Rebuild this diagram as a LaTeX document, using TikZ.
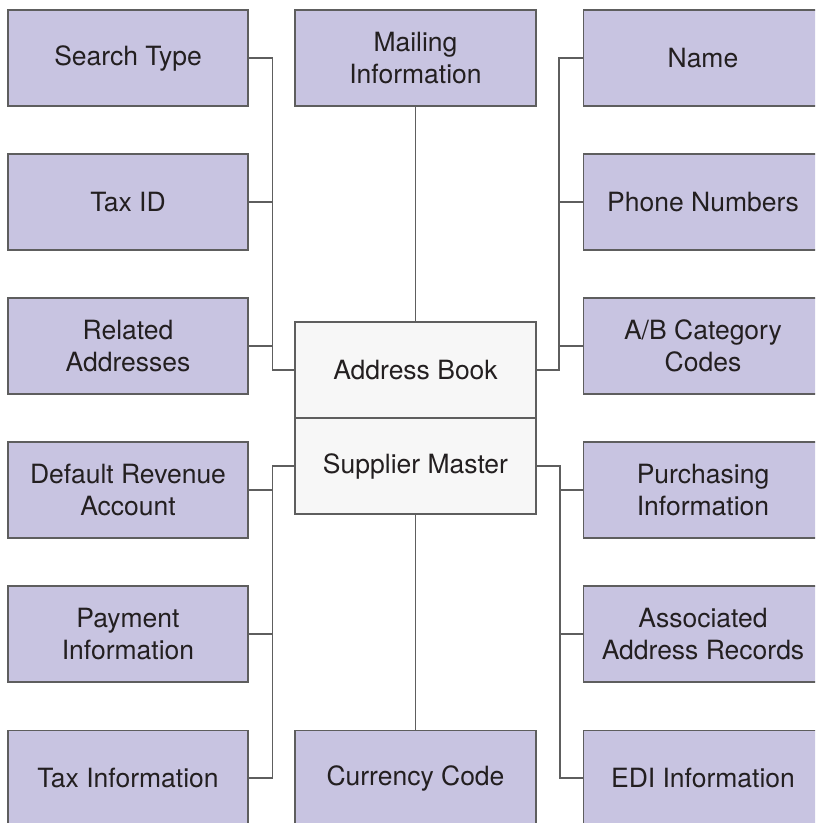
\documentclass[tikz,border=0pt]{standalone}
\usepackage{fontspec}
\setmainfont{TeX Gyre Heros}
\definecolor{boxfill}{HTML}{C8C4E1}
\definecolor{boxline}{HTML}{5E5E5E}
\definecolor{centerfill}{HTML}{F7F7F7}
\definecolor{txt}{HTML}{231F20}
\newcommand\bstr{\vrule width 0pt height 21pt depth 2pt\relax}
\begin{document}
\begin{tikzpicture}[x=1pt,y=-1pt,
  every node/.style={font=\fontsize{26.5}{32}\selectfont, text=txt, align=center, inner sep=0pt},
  item/.style={draw=boxline, line width=1.1pt, fill=boxfill, minimum width=240pt, minimum height=96pt},
  wideitem/.style={draw=boxline, line width=1.1pt, fill=boxfill, minimum width=300pt, minimum height=96pt, anchor=west},
  tallitem/.style={draw=boxline, line width=1.1pt, fill=boxfill, minimum width=#1, minimum height=140pt, anchor=north},
  core/.style={draw=boxline, line width=1.1pt, fill=centerfill, minimum width=241pt, minimum height=96pt},
  link/.style={draw=boxline, line width=1.1pt}]
\useasboundingbox (0,0) rectangle (815,823);
\clip (0,0) rectangle (815,823);
% left column
\node[item] (st) at (128,58) {\bstr Search Type};
\node[item] (tid) at (128,202) {\bstr Tax ID};
\node[item] (rel) at (128,346) {\bstr Related\\Addresses\bstr};
\node[item] (drv) at (128,490) {\bstr Default Revenue\\Account\bstr};
\node[item] (pay) at (128,634) {\bstr Payment\\Information\bstr};
\node[tallitem=240pt] (taxbox) at (128,730) {};
\node (tax) at (128,778) {\bstr Tax Information};
% middle column
\node[item, minimum width=241pt] (mail) at (415.5,58) {\bstr Mailing\\Information\bstr};
\node[core] (ab) at (415.5,370) {\bstr Address Book};
\node[core] (sm) at (415.5,466) {\bstr Supplier Master};
\node[tallitem=241pt] (curbox) at (415.5,730) {};
\node (cur) at (415.5,778) {\bstr Currency Code};
% right column
\node[wideitem] (nmbox) at (583,58) {};
\node (nm) at (703,58) {\bstr Name};
\node[wideitem] (phbox) at (583,202) {};
\node (ph) at (703,202) {\bstr Phone Numbers};
\node[wideitem] (catbox) at (583,346) {};
\node (cat) at (703,346) {\bstr A/B Category\\Codes\bstr};
\node[wideitem] (purbox) at (583,490) {};
\node (pur) at (703,490) {\bstr Purchasing\\Information\bstr};
\node[wideitem] (aarbox) at (583,634) {};
\node (aar) at (703,634) {\bstr Associated\\Address Records\bstr};
\node[tallitem=300pt, anchor=north west] (edibox) at (583,730) {};
\node (edi) at (703,778) {\bstr EDI Information};
% bus coordinates
\coordinate (lx) at (272.5,0);
\coordinate (rx) at (559,0);
\coordinate (rx2) at (560,0);
\coordinate (taxe) at (taxbox.east |- tax);
\coordinate (edie) at (edibox.west |- edi);
% upper left
\draw[link] (st.east) -- (st.east -| lx) |- (ab.west);
\draw[link] (tid.east) -- (tid.east -| lx);
\draw[link] (rel.east) -- (rel.east -| lx);
% upper right
\draw[link] (nmbox.west) -- (nmbox.west -| rx) |- (ab.east);
\draw[link] (phbox.west) -- (phbox.west -| rx);
\draw[link] (catbox.west) -- (catbox.west -| rx);
% lower left
\draw[link] (sm.west) -- (sm.west -| lx) |- (taxe);
\draw[link] (drv.east) -- (drv.east -| lx);
\draw[link] (pay.east) -- (pay.east -| lx);
% lower right
\draw[link] (sm.east) -- (sm.east -| rx2) |- (edie);
\draw[link] (purbox.west) -- (purbox.west -| rx2);
\draw[link] (aarbox.west) -- (aarbox.west -| rx2);
% middle
\draw[link] (mail.south) -- (ab.north);
\draw[link] (sm.south) -- (curbox.north);
\end{tikzpicture}
\end{document}
